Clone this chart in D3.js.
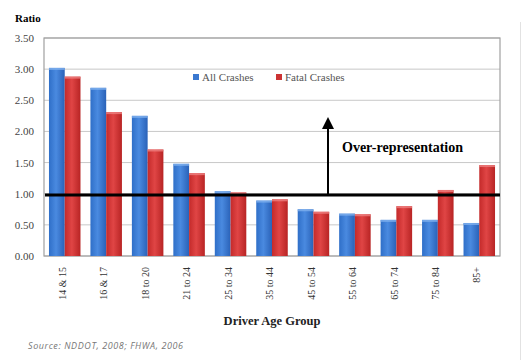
<!DOCTYPE html>
<html><head><meta charset="utf-8">
<script src="https://cdn.jsdelivr.net/npm/d3@7"></script>
<style>body{margin:0;background:#fff}svg{display:block}</style>
</head><body>
<svg id="c" width="522" height="360"></svg>
<script>
const categories = ["14 & 15","16 & 17","18 to 20","21 to 24","25 to 34","35 to 44","45 to 54","55 to 64","65 to 74","75 to 84","85+"];
const allCrashes = [3.02,2.70,2.25,1.48,1.04,0.89,0.75,0.68,0.58,0.58,0.53];
const fatalCrashes = [2.88,2.31,1.71,1.33,1.02,0.91,0.71,0.67,0.80,1.06,1.46];
const yTicks = [0,0.5,1,1.5,2,2.5,3,3.5];
const seriesNames = ["All Crashes","Fatal Crashes"];
const refValue = 0.98;

const svg = d3.select("#c");
const m = {l:44, r:500, t:38, b:256};
const x = d3.scaleBand().domain(categories).range([m.l, m.r]).paddingInner(0.24).paddingOuter(0.12);
const xs = d3.scaleBand().domain(seriesNames).range([0, x.bandwidth()]);
const y = d3.scaleLinear().domain([0,3.5]).range([m.b, m.t]);

const defs = svg.append("defs");
function grad(id, c1, c2, c3){
  const g = defs.append("linearGradient").attr("id", id).attr("x1","0").attr("x2","1").attr("y1","0").attr("y2","0");
  g.append("stop").attr("offset","0").attr("stop-color",c1);
  g.append("stop").attr("offset","0.45").attr("stop-color",c2);
  g.append("stop").attr("offset","1").attr("stop-color",c3);
}
grad("gb","#2f6fc8","#4a8ae0","#2a62b8");
grad("gr","#c42a2a","#e04545","#b82424");
const fills = ["url(#gb)","url(#gr)"];

// gridlines
svg.append("g").selectAll("line").data(yTicks).join("line")
  .attr("x1", m.l).attr("x2", m.r).attr("y1", d=>y(d)).attr("y2", d=>y(d))
  .attr("stroke","#c8c8c8").attr("stroke-width",1);

// plot border
svg.append("rect").attr("x",m.l).attr("y",m.t).attr("width",m.r-m.l).attr("height",m.b-m.t)
  .attr("fill","none").attr("stroke","#a0a0a0").attr("stroke-width",1.2);

// faint right edge line
svg.append("line").attr("x1",520.5).attr("x2",520.5).attr("y1",22).attr("y2",360).attr("stroke","#e2e2e2");

// bars
const series = [allCrashes, fatalCrashes];
series.forEach((vals, si) => {
  svg.append("g").selectAll("rect").data(vals).join("rect")
    .attr("x", (d,i)=> x(categories[i]) + xs(seriesNames[si]))
    .attr("width", xs.bandwidth())
    .attr("y", d=>y(d)).attr("height", d=> y(0)-y(d))
    .attr("fill", fills[si]);
  svg.append("g").selectAll("rect").data(vals).join("rect")
    .attr("x", (d,i)=> x(categories[i]) + xs(seriesNames[si]))
    .attr("width", xs.bandwidth())
    .attr("y", d=>y(d)).attr("height", 2)
    .attr("fill", si===0 ? "#7fb0ee" : "#ee8080").attr("opacity",0.8);
});

// y axis labels
const yAxis = d3.axisLeft(y).tickValues(yTicks).tickFormat(d3.format(".2f")).tickSize(0).tickPadding(10);
const ya = svg.append("g").attr("transform",`translate(${m.l},0)`).call(yAxis);
ya.select(".domain").remove();
ya.selectAll("text").attr("font-family","Liberation Serif").attr("font-size",11).attr("fill","#444");

// x axis labels
const xAxis = d3.axisBottom(x).tickSize(0).tickPadding(0);
const xa = svg.append("g").attr("transform",`translate(0,${m.b})`).call(xAxis);
xa.select(".domain").remove();
xa.selectAll("text").attr("font-family","Liberation Serif").attr("font-size",10).attr("fill","#333")
  .attr("transform","rotate(-90)").attr("text-anchor","end").attr("dy","0.32em").attr("x",-11).attr("y",-2);

// reference line
svg.append("line").attr("x1",m.l+1).attr("x2",m.r).attr("y1",y(refValue)).attr("y2",y(refValue))
  .attr("stroke","#000").attr("stroke-width",3);

// arrow
const ax = 328;
svg.append("line").attr("x1",ax).attr("x2",ax).attr("y1",y(refValue)).attr("y2",127).attr("stroke","#000").attr("stroke-width",2);
svg.append("path").attr("d",`M${ax-6},129 L${ax+6},129 L${ax},117 Z`).attr("fill","#000");
svg.append("text").attr("x",342).attr("y",152).attr("font-family","Liberation Serif").attr("font-weight","bold")
  .attr("font-size",14).text("Over-representation");

// legend
const lg = svg.append("g").attr("font-family","Liberation Serif").attr("font-size",11).attr("fill","#555");
const lx = [193, 276];
seriesNames.forEach((n,i)=>{
  lg.append("rect").attr("x",lx[i]).attr("y",74).attr("width",6).attr("height",6).attr("fill", i===0?"#3a78d0":"#cc3333");
  lg.append("text").attr("x",lx[i]+9).attr("y",81).text(n);
});

// titles
svg.append("text").attr("x",15).attr("y",22).attr("font-family","Liberation Serif").attr("font-weight","bold")
  .attr("font-size",11).text("Ratio");
svg.append("text").attr("x",272).attr("y",325).attr("text-anchor","middle").attr("font-family","Liberation Serif")
  .attr("font-weight","bold").attr("font-size",12.5).attr("fill","#222").text("Driver Age Group");
svg.append("text").attr("x",28).attr("y",349).attr("font-family","Open Sans").attr("font-style","italic")
  .attr("font-size",9).attr("fill","#777").attr("textLength",155).attr("lengthAdjust","spacing")
  .text("Source: NDDOT, 2008; FHWA, 2006");
</script>
</body></html>
